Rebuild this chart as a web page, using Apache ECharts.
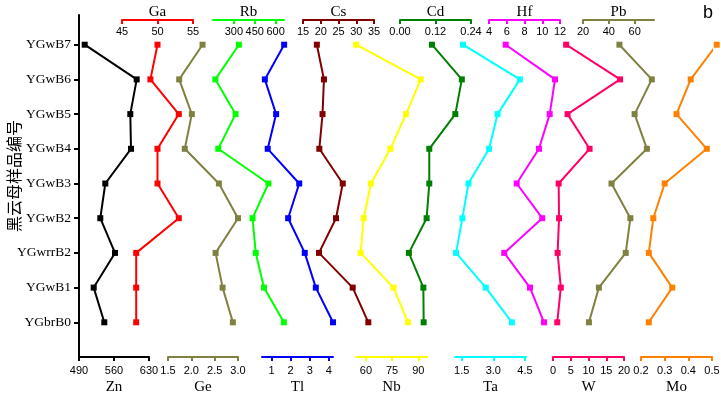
<!DOCTYPE html>
<html>
<head>
<meta charset="utf-8">
<script src="https://cdn.jsdelivr.net/npm/echarts@6/dist/echarts.min.js"></script>
<style>
  html, body { margin: 0; padding: 0; background: #fff; }
  #chart { width: 721px; height: 396px; }
</style>
</head>
<body>
<div id="chart"></div>
<script>
// samples, bottom to top
const SAMPLES = ['YGbrB0', 'YGwB1', 'YGwrrB2', 'YGwB2', 'YGwB3', 'YGwB4', 'YGwB5', 'YGwB6', 'YGwB7']

// element contents per sample (same order as SAMPLES)
const ZN = [540.6, 519.4, 562, 532.6, 542.6, 594, 592.6, 605.4, 501.4]
const GA = [47, 47, 47, 53, 50, 50, 53, 49, 50]
const GE = [2.89, 2.67, 2.52, 3.0, 2.59, 1.86, 2.01, 1.74, 2.24]
const RB = [659, 516, 457, 434, 548, 188, 312, 167, 336]
const TL = [4.22, 3.32, 2.74, 1.87, 2.45, 0.8, 1.24, 0.65, 1.66]
const CS = [33.4, 29.0, 19.5, 24.3, 26.2, 19.6, 20.5, 20.9, 18.9]
const NB = [84.1, 75.8, 57.0, 58.7, 62.9, 74.0, 83.0, 91.4, 54.4]
const CD = [0.08, 0.079, 0.03, 0.09, 0.099, 0.099, 0.187, 0.209, 0.108]
const TA = [3.88, 2.64, 1.23, 1.53, 1.82, 2.8, 3.2, 4.26, 1.56]
const HF = [10.2, 8.62, 5.72, 10.0, 7.12, 9.63, 10.84, 11.44, 5.88]
const W = [1.2, 2.2, 1.3, 1.7, 1.6, 10.3, 4.1, 18.9, 3.7]
const PB = [24.6, 32.3, 53.1, 56.7, 42.1, 69.5, 60.0, 73.3, 48.2]
const MO = [0.233, 0.332, 0.233, 0.252, 0.3, 0.478, 0.35, 0.41, 0.52]

// tick labels per axis
const ZN_TICKS = [490, 560, 630]
const GA_TICKS = [45, 50, 55]
const GE_TICKS = [1.5, 2.0, 2.5, 3.0]
const RB_TICKS = [300, 450, 600]
const TL_TICKS = [1, 2, 3, 4]
const CS_TICKS = [15, 20, 25, 30, 35]
const NB_TICKS = [60, 75, 90]
const CD_TICKS = [0, 0.12, 0.24]
const TA_TICKS = [1.5, 3.0, 4.5]
const HF_TICKS = [4, 6, 8, 10, 12]
const W_TICKS = [0, 5, 10, 15, 20]
const PB_TICKS = [20, 40, 60]
const MO_TICKS = [0.2, 0.3, 0.4, 0.5]

// one small grid per element, each with its own x axis
const PANELS = [
  { name: 'Zn', values: ZN, ticks: ZN_TICKS, dec: 0, color: '#000000', side: 'bottom', left: 79,  width: 70, min: 490,  max: 630 },
  { name: 'Ga', values: GA, ticks: GA_TICKS, dec: 0, color: '#ff0000', side: 'top',    left: 122, width: 71, min: 45,   max: 55 },
  { name: 'Ge', values: GE, ticks: GE_TICKS, dec: 1, color: '#808040', side: 'bottom', left: 168, width: 70, min: 1.5,  max: 3.0 },
  { name: 'Rb', values: RB, ticks: RB_TICKS, dec: 0, color: '#00ff00', side: 'top',    left: 213, width: 71, min: 150,  max: 660 },
  { name: 'Tl', values: TL, ticks: TL_TICKS, dec: 0, color: '#0000ff', side: 'bottom', left: 262, width: 71, min: 0.5,  max: 4.22 },
  { name: 'Cs', values: CS, ticks: CS_TICKS, dec: 0, color: '#800000', side: 'top',    left: 303, width: 71, min: 15,   max: 35 },
  { name: 'Nb', values: NB, ticks: NB_TICKS, dec: 0, color: '#ffff00', side: 'bottom', left: 356, width: 71, min: 54.3, max: 95 },
  { name: 'Cd', values: CD, ticks: CD_TICKS, dec: 2, color: '#008000', side: 'top',    left: 400, width: 71, min: 0,    max: 0.24 },
  { name: 'Ta', values: TA, ticks: TA_TICKS, dec: 1, color: '#00ffff', side: 'bottom', left: 455, width: 71, min: 1.18, max: 4.55 },
  { name: 'Hf', values: HF, ticks: HF_TICKS, dec: 0, color: '#ff00ff', side: 'top',    left: 489, width: 71, min: 4,    max: 12 },
  { name: 'W',  values: W,  ticks: W_TICKS,  dec: 0, color: '#ff0066', side: 'bottom', left: 553, width: 71, min: 0,    max: 20 },
  { name: 'Pb', values: PB, ticks: PB_TICKS, dec: 0, color: '#808040', side: 'top',    left: 583, width: 71, min: 20,   max: 75 },
  { name: 'Mo', values: MO, ticks: MO_TICKS, dec: 1, color: '#ff8000', side: 'bottom', left: 641, width: 71, min: 0.2,  max: 0.5 },
]

const BOTTOM = 39          // bottom axis line at 357px
const STEP = 34.7          // px between samples
const SANS = '"Liberation Sans", Arial, sans-serif'
const SERIF = '"Liberation Serif", "Times New Roman", serif'

const chart = echarts.init(document.getElementById('chart'), null, { renderer: 'canvas' })

const grids = []
const xAxes = []
const yAxes = []
const series = []

PANELS.forEach((p, i) => {
  const top = i === 0 ? 15 : 20
  const yMax = -1 + (396 - BOTTOM - top) / STEP
  grids.push({ left: p.left, width: p.width, top, bottom: BOTTOM, containLabel: false, outerBoundsMode: 'none' })

  const isTop = p.side === 'top'
  xAxes.push({
    gridIndex: i,
    type: 'value',
    position: p.side,
    min: p.min,
    max: p.max,
    name: p.name,
    nameLocation: 'middle',
    nameGap: isTop ? 0 : 23,
    nameMoveOverlap: false,
    nameTextStyle: { fontFamily: SERIF, fontSize: 15, color: '#000' },
    axisLine: { show: true, onZero: false, lineStyle: { color: p.color, width: 2 } },
    axisTick: { show: true, inside: isTop, length: 4, customValues: p.ticks, lineStyle: { color: p.color, width: 2 } },
    axisLabel: {
      show: true,
      inside: isTop,
      margin: isTop ? 6 : 8,
      customValues: p.ticks,
      formatter: v => Number(v).toFixed(p.dec),
      fontFamily: SANS,
      fontSize: 11,
      color: '#000',
    },
    splitLine: { show: false },
  })

  const yAxis = {
    gridIndex: i,
    type: 'value',
    min: -1,
    max: yMax,
    show: i === 0,
    splitLine: { show: false },
  }
  if (i === 0) {
    Object.assign(yAxis, {
      name: '黑云母样品编号',
      nameLocation: 'middle',
      nameGap: 57,
      nameMoveOverlap: false,
      nameTextStyle: { fontFamily: '"Noto Sans CJK SC", sans-serif', fontSize: 16, color: '#000', padding: [0, 0, 0, 20] },
      axisLine: { show: true, onZero: false, lineStyle: { color: '#000', width: 2 } },
      axisTick: { show: true, length: 5, customValues: SAMPLES.map((s, k) => k), lineStyle: { color: '#000', width: 2 } },
      axisLabel: {
        show: true,
        margin: 8,
        customValues: SAMPLES.map((s, k) => k),
        formatter: v => SAMPLES[Math.round(v)] || '',
        fontFamily: SERIF,
        fontSize: 13.5,
        color: '#000',
      },
    })
  }
  yAxes.push(yAxis)

  series.push({
    type: 'line',
    name: p.name,
    xAxisIndex: i,
    yAxisIndex: i,
    data: p.values.map((v, k) => [v, k]),
    symbol: 'rect',
    symbolSize: 6,
    showSymbol: true,
    clip: false,
    lineStyle: { color: p.color, width: 2 },
    itemStyle: { color: p.color },
    emphasis: { disabled: true },
    animation: false,
  })
})

chart.setOption({
  animation: false,
  title: {
    text: 'b',
    left: 698,
    top: -1,
    textStyle: { fontFamily: SANS, fontSize: 18, fontWeight: 'normal', color: '#000' },
  },
  grid: grids,
  xAxis: xAxes,
  yAxis: yAxes,
  series,
})
</script>
</body>
</html>
